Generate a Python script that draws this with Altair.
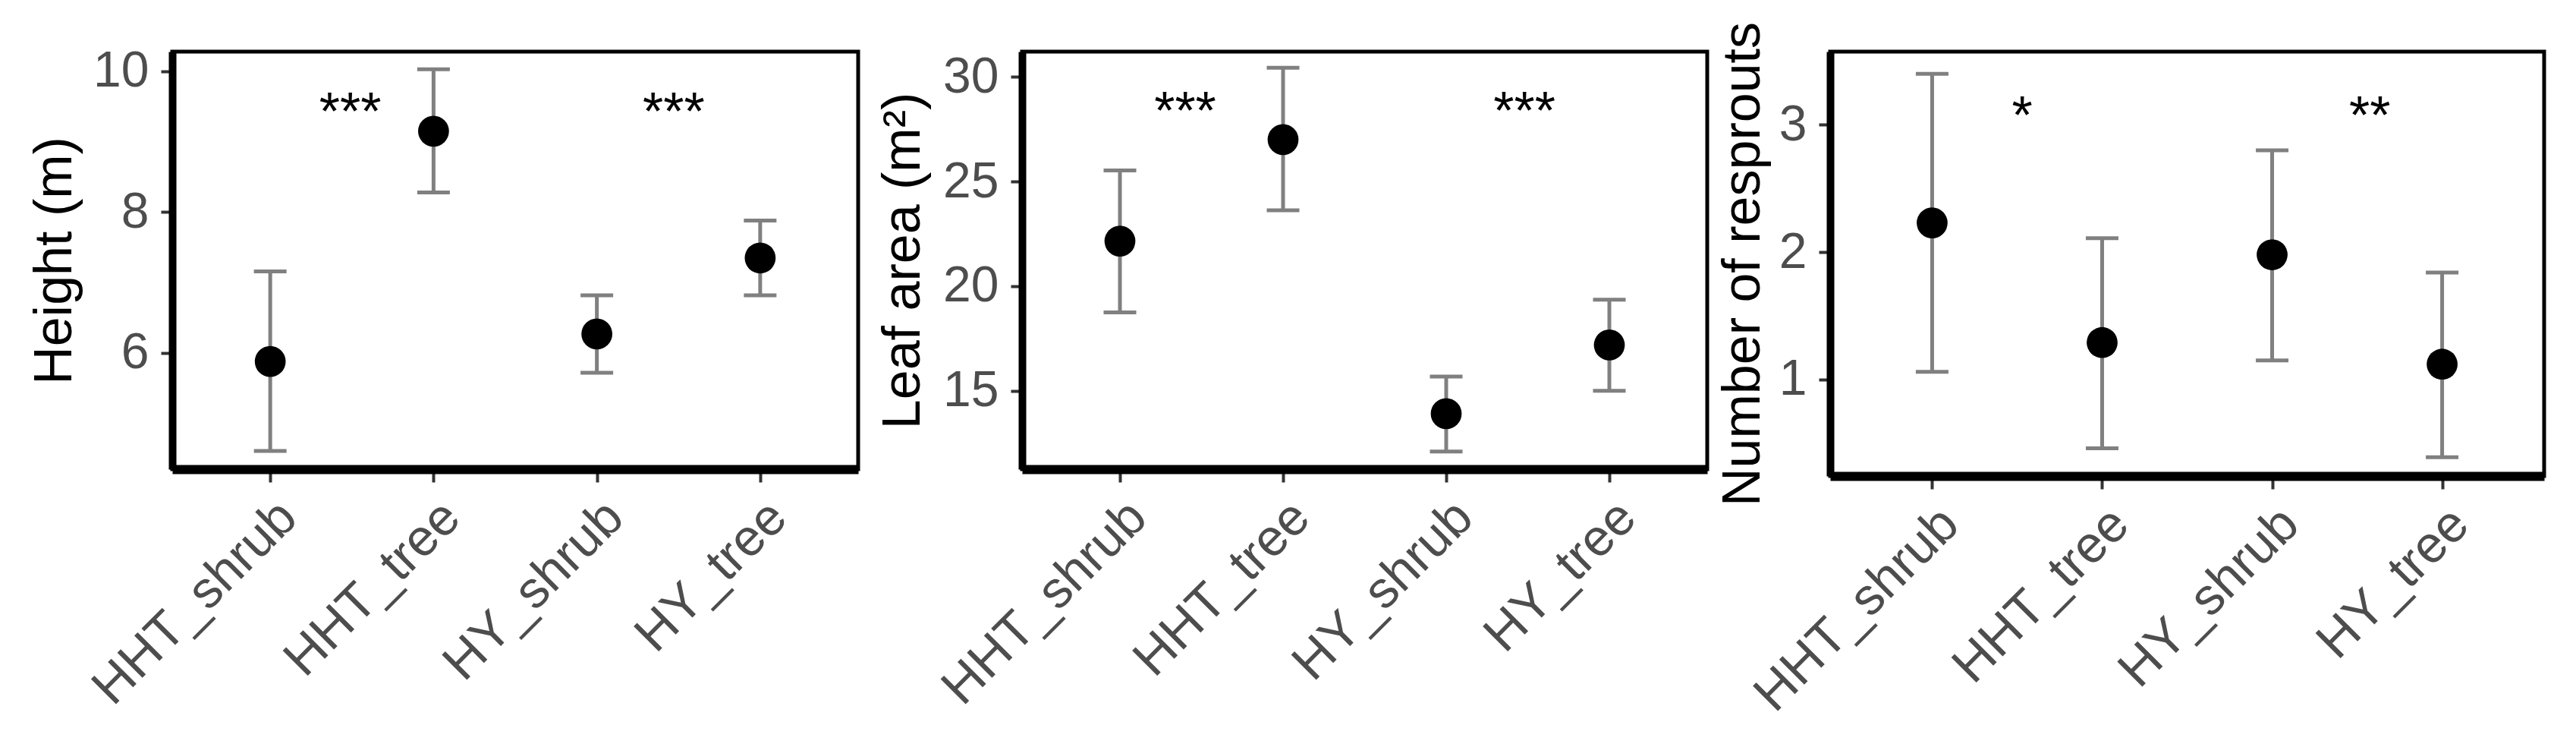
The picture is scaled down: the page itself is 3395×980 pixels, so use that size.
import json
import altair as alt
import pandas as pd

# ---------------- data ----------------
categories = ["HHT_shrub", "HHT_tree", "HY_shrub", "HY_tree"]

height_mean = [5.88, 9.15, 6.27, 7.35]
height_low = [4.61, 8.28, 5.72, 6.82]
height_high = [7.16, 10.03, 6.82, 7.88]

leaf_mean = [22.15, 27.0, 13.91, 17.19]
leaf_low = [18.75, 23.62, 12.10, 15.00]
leaf_high = [25.53, 30.43, 15.68, 19.35]

resprout_mean = [2.23, 1.29, 1.98, 1.12]
resprout_low = [1.06, 0.46, 1.15, 0.39]
resprout_high = [3.40, 2.11, 2.80, 1.84]

height_star_pos = [1.49, 3.47]
height_star_y = [9.60, 9.60]
height_star_txt = ["***", "***"]

leaf_star_pos = [1.40, 3.48]
leaf_star_y = [28.97, 28.97]
leaf_star_txt = ["***", "***"]

resprout_star_pos = [1.53, 3.575]
resprout_star_y = [3.17, 3.17]
resprout_star_txt = ["*", "**"]

height_ticks = [6, 8, 10]
leaf_ticks = [15, 20, 25, 30]
resprout_ticks = [1, 2, 3]

FONT = "Liberation Sans"
LABEL_EXPR = json.dumps(categories) + "[datum.value - 1]"


def make_panel(means, lows, highs, spos, sy, stxt, ydomain, yticks, ytitle,
               title_pad, width, height):
    df = pd.DataFrame({
        "cat": categories,
        "pos": list(range(1, len(categories) + 1)),
        "mean": means,
        "low": lows,
        "high": highs,
    })
    sdf = pd.DataFrame({"pos": spos, "y": sy, "txt": stxt})

    xenc = alt.X(
        "pos:Q",
        scale=alt.Scale(domain=[0.4, 4.6], nice=False, zero=False),
        axis=alt.Axis(
            values=[1, 2, 3, 4], labelExpr=LABEL_EXPR, title=None,
            labelAngle=-45, labelAlign="right", labelBaseline="top",
            labelFontSize=68, labelColor="#4d4d4d", labelFont=FONT,
            labelPadding=12, labelOffset=0, labelLimit=0,
            tickSize=17, tickWidth=4, tickColor="#333333",
            domainColor="black", domainWidth=12, grid=False,
            labelOverlap=False, labelFlush=False,
        ),
    )
    yscale = alt.Scale(domain=ydomain, nice=False, zero=False)
    yaxis = alt.Axis(
        values=yticks, format="d", title=ytitle, titleFontSize=70,
        titleFont=FONT, titleFontWeight="normal", titleColor="black",
        titlePadding=title_pad,
        labelFontSize=66, labelColor="#4d4d4d", labelFont=FONT,
        labelPadding=16, tickSize=15, tickWidth=4, tickColor="#333333",
        domainColor="black", domainWidth=10, grid=False, labelLimit=0,
    )

    base = alt.Chart(df)
    stem = base.mark_rule(color="#808080", strokeWidth=5).encode(
        x=xenc, y=alt.Y("low:Q", scale=yscale, axis=yaxis), y2="high:Q")
    cap_lo = base.mark_tick(color="#808080", orient="horizontal", size=43,
                            thickness=5, opacity=1).encode(
        x="pos:Q", y="low:Q")
    cap_hi = base.mark_tick(color="#808080", orient="horizontal", size=43,
                            thickness=5, opacity=1).encode(
        x="pos:Q", y="high:Q")
    pts = base.mark_point(filled=True, color="black", size=1660,
                          opacity=1).encode(x="pos:Q", y="mean:Q")
    stars = alt.Chart(sdf).mark_text(font=FONT, fontSize=70, color="black",
                                     baseline="middle", align="center",
                                     dy=19).encode(
        x="pos:Q", y="y:Q", text="txt:N")
    return alt.layer(stem, cap_lo, cap_hi, pts, stars).properties(
        width=width, height=height,
        view=alt.ViewBackground(stroke="black", strokeWidth=5, fill="white"))


p1 = make_panel(height_mean, height_low, height_high, height_star_pos,
                height_star_y, height_star_txt, [4.35, 10.28], height_ticks,
                "Height (m)", 14, 904, 550)
p2 = make_panel(leaf_mean, leaf_low, leaf_high, leaf_star_pos, leaf_star_y,
                leaf_star_txt, [11.26, 31.2], leaf_ticks,
                "Leaf area (m²)", 16, 903, 550)
p3 = make_panel(resprout_mean, resprout_low, resprout_high, resprout_star_pos,
                resprout_star_y, resprout_star_txt, [0.242, 3.575],
                resprout_ticks, "Number of resprouts", 11, 941, 559)

chart = alt.hconcat(alt.hconcat(p1, p2, spacing=19), p3, spacing=6).properties(
    padding={"left": 27, "top": 17, "right": 0, "bottom": 0}
).configure_view(stroke="black", strokeWidth=5).configure(background="white")

chart.save("out.html", embed_options={"renderer": "svg", "actions": False})
